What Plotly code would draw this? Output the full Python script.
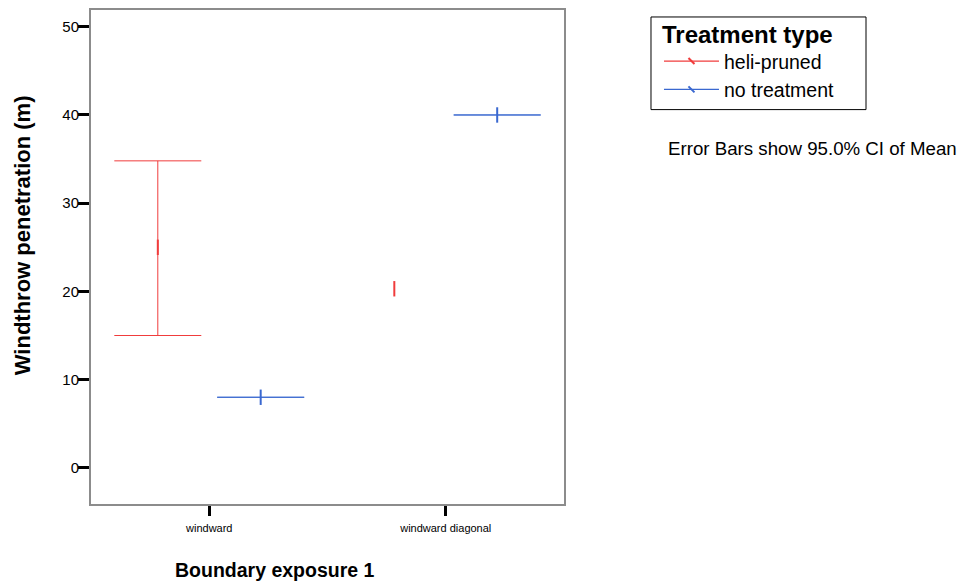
import plotly.graph_objects as go

categories = ["windward", "windward diagonal"]
heli_mean = [25.0, 20.3]
heli_lo = [15.0, None]
heli_hi = [34.8, None]
none_mean = [8.0, 40.0]
none_lo = [8.0, 40.0]
none_hi = [8.0, 40.0]

RED = "#f03c3c"
BLUE = "#3a68d0"
FONT = "Liberation Sans, Arial, sans-serif"


def err(m, lo, hi):
    # "NaN" (not null) so plotly.js skips the bar instead of drawing a zero-length one
    plus, minus = [], []
    for a, l, h in zip(m, lo, hi):
        plus.append("NaN" if h is None else h - a)
        minus.append("NaN" if l is None else a - l)
    return plus, minus


fig = go.Figure()
for name, m, lo, hi, col in [("heli-pruned", heli_mean, heli_lo, heli_hi, RED),
                             ("no treatment", none_mean, none_lo, none_hi, BLUE)]:
    p, mi = err(m, lo, hi)
    fig.add_trace(go.Scatter(
        x=categories, y=m, mode="markers", name=name, showlegend=False,
        offsetgroup=name, orientation="v",
        marker=dict(symbol="line-ns", size=11, line=dict(color=col, width=2), color=col),
        error_y=dict(type="data", array=p, arrayminus=mi, symmetric=False,
                     color=col, thickness=1, width=43.5),
        hoverinfo="skip"))
    fig.add_trace(go.Scatter(
        x=[None], y=[None], mode="lines+markers", name=name, showlegend=True,
        line=dict(color=col, width=1.2),
        marker=dict(symbol="line-nw", size=6, line=dict(color=col, width=2), color=col)))

fig.update_layout(
    width=964, height=588,
    margin=dict(l=91, r=400, t=8, b=84),
    paper_bgcolor="white", plot_bgcolor="white",
    scattermode="group", scattergap=0.13,
    font=dict(family=FONT, color="black"),
    showlegend=True,
    legend=dict(
        x=1.2008, y=0.9355, xanchor="left", yanchor="top",
        borderwidth=0, bgcolor="rgba(0,0,0,0)",
        font=dict(size=19.5, family=FONT), itemwidth=55, tracegroupgap=0,
    ),
)
# legend frame and title
fig.add_shape(type="rect", xref="paper", yref="paper",
              x0=1.18393, x1=1.63848, y0=0.79839, y1=0.98589,
              line=dict(color="black", width=1), fillcolor="rgba(0,0,0,0)", layer="below")
fig.add_annotation(text="<b>Treatment type</b>", xref="paper", yref="paper",
                   x=1.2030, y=0.9496, xanchor="left", yanchor="middle",
                   showarrow=False, font=dict(size=24, family=FONT))
fig.update_xaxes(
    type="category", range=[-0.5, 1.5],
    showline=True, linecolor="#8c8c8c", linewidth=2, mirror=True,
    showgrid=False, zeroline=False,
    ticks="outside", ticklen=10, tickwidth=3, tickcolor="black",
    tickfont=dict(size=11, family=FONT), ticklabelstandoff=3,
)
fig.update_yaxes(
    range=[-4.1, 51.9], dtick=10, tick0=0,
    showline=True, linecolor="#8c8c8c", linewidth=2, mirror=True,
    showgrid=False, zeroline=False,
    ticks="outside", ticklen=11, tickwidth=3, tickcolor="black",
    tickfont=dict(size=15, family=FONT), ticklabelstandoff=-4,
)
fig.add_annotation(text="<b>Windthrow penetration (m)</b>", xref="paper", yref="paper",
                   x=-0.146, y=0.544, xanchor="center", yanchor="middle", textangle=-90,
                   showarrow=False, font=dict(size=22, family=FONT))
fig.add_annotation(text="<b>Boundary exposure 1</b>", xref="paper", yref="paper",
                   x=0.389, y=-0.133, xanchor="center", yanchor="middle",
                   showarrow=False, font=dict(size=19.5, family=FONT))
fig.add_annotation(text="Error Bars show 95.0% CI of Mean", xref="paper", yref="paper",
                   x=1.2156, y=0.72, xanchor="left", yanchor="middle",
                   showarrow=False, font=dict(size=18.7, family=FONT))

fig.write_html("out.html")
